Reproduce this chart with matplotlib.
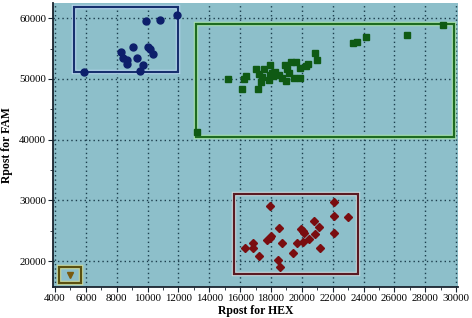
import matplotlib
matplotlib.use("Agg")
import matplotlib.pyplot as plt
import matplotlib.patheffects as pe
from matplotlib.patches import Rectangle
from matplotlib.ticker import MultipleLocator

# cluster 1 (blue circles)
blue_x = [5880, 8270, 8430, 8650, 8660, 9050, 9300, 9520, 9700, 9910, 10020, 10170, 10340, 10820, 11900]
blue_y = [51200, 54400, 53400, 53100, 52400, 55300, 53500, 51300, 52250, 59600, 55300, 54900, 54150, 59770, 60550]

# cluster 2 (green squares)
green_x = [13200, 15190, 16120, 16270, 16400, 17030, 17160, 17200, 17360, 17530, 17440,
           17960, 17920, 17900, 18070, 18160, 18240, 18550, 18720, 18890, 19050, 19000,
           19150, 19310, 19590, 19520, 19910, 19870, 20240, 20380, 20880, 20970,
           23310, 23590, 24180, 26790, 29180]
green_y = [41320, 50000, 48300, 49950, 50500, 51600, 48400, 50780, 49460, 51600, 50330,
           52300, 50660, 49840, 50940, 50500, 51200, 50660, 50120, 52300, 51600, 49720,
           50940, 52850, 52850, 50220, 50120, 51860, 52190, 52470, 54330, 53130,
           55880, 56150, 56870, 57250, 58900]

# cluster 3 (red diamonds)
red_x = [16290, 16840, 16840, 17200, 17750, 17920, 18010, 17940, 18500, 18440, 18610,
         18720, 19440, 19700, 19960, 20090, 20170, 20090, 20450, 20770, 20820, 21100,
         21160, 22070, 22070, 22070, 23010]
red_y = [22190, 22910, 22090, 20820, 23460, 23840, 24170, 29110, 25490, 20170, 18960,
         22910, 21370, 22910, 25270, 24940, 24660, 23180, 23570, 26590, 24400, 25650,
         22090, 29670, 27460, 24560, 27200]

# no-template point
ntc_x = [4970]
ntc_y = [17690]

# gate boxes: (x0, y0, x1, y1)
box_blue = (5230, 51200, 11990, 61900)
box_green = (13140, 40400, 29830, 59000)
box_red = (15580, 17810, 23660, 31090)
box_ntc = (4280, 16430, 5690, 18960)

fig = plt.figure(figsize=(4.72, 3.18), dpi=100)
ax = fig.add_axes([0.1123, 0.0975, 0.8580, 0.8931])
ax.set_facecolor("#8dbfca")

ax.set_xlim(3870, 30120)
ax.set_ylim(15720, 62520)
ax.xaxis.set_major_locator(MultipleLocator(2000))
ax.xaxis.set_minor_locator(MultipleLocator(1000))
ax.yaxis.set_major_locator(MultipleLocator(10000))
ax.yaxis.set_minor_locator(MultipleLocator(5000))
ax.grid(True, which="major", color="#1b3d4c", linestyle=(0, (1, 2.2)), linewidth=1.0)

for side in ["top", "right"]:
    ax.spines[side].set_visible(False)
for side in ["left", "bottom"]:
    ax.spines[side].set_color("#1a2530")
    ax.spines[side].set_linewidth(1.3)

ax.tick_params(which="both", direction="out", color="#1a2530", labelsize=7.8, pad=1.5)
ax.tick_params(which="major", length=3.5)
ax.tick_params(which="minor", length=2.5)
for lab in ax.get_xticklabels() + ax.get_yticklabels():
    lab.set_family("Liberation Serif")

def draw_box(b, col, glow):
    r = Rectangle((b[0], b[1]), b[2] - b[0], b[3] - b[1], fill=False,
                  edgecolor=col, linewidth=1.6, zorder=3)
    r.set_path_effects([pe.Stroke(linewidth=3.2, foreground=glow), pe.Normal()])
    ax.add_patch(r)

draw_box(box_blue, "#17306e", "#b8d8ee")
draw_box(box_green, "#1e6b22", "#a8e0b0")
draw_box(box_red, "#5a1a22", "#c8d8dc")
draw_box(box_ntc, "#5a5010", "#c8d8a0")

ax.plot(blue_x, blue_y, "o", color="#0d1f6b", markersize=5, zorder=4)
ax.plot(green_x, green_y, "s", color="#0f5a14", markersize=4.2, zorder=4)
ax.plot(red_x, red_y, "D", color="#7a0d10", markersize=4.2, zorder=4)
ax.plot(ntc_x, ntc_y, "v", color="#7a5a10", markersize=4, zorder=4)

ax.set_xlabel("Rpost for HEX", family="Liberation Serif", fontweight="bold", fontsize=8.5)
ax.set_ylabel("Rpost for FAM", family="Liberation Serif", fontweight="bold", fontsize=8.5)
ax.xaxis.set_label_coords(0.5, -0.062)
ax.yaxis.set_label_coords(-0.099, 0.5)

fig.savefig("out.png", dpi=100)
